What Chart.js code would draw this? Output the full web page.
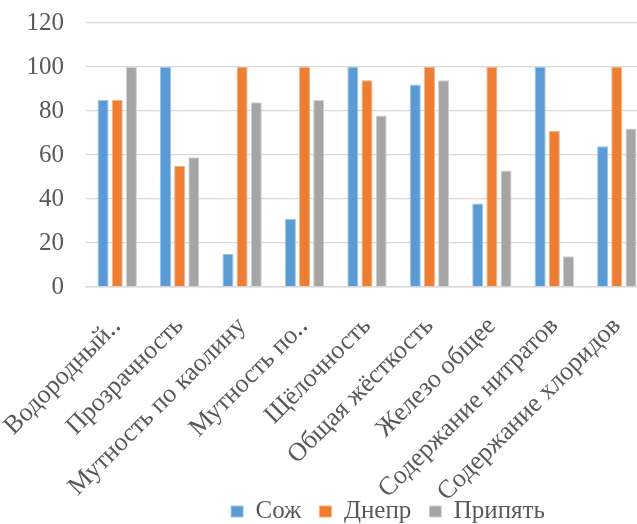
<!DOCTYPE html>
<html>
<head>
<meta charset="utf-8">
<script src="https://cdn.jsdelivr.net/npm/chart.js@4/dist/chart.umd.min.js"></script>
<style>
  html, body { margin: 0; padding: 0; overflow: hidden; background: #ffffff; }
  #wrap { position: absolute; left: 0; top: 0; width: 776px; height: 524px; }
</style>
</head>
<body>
<div id="wrap"><canvas id="chart" width="776" height="524"></canvas></div>
<script>
// Water quality indicators for three rivers
const categories = [
  'Водородный‥',
  'Прозрачность',
  'Мутность по каолину',
  'Мутность по‥',
  'Щёлочность',
  'Общая жёсткость',
  'Железо общее',
  'Содержание нитратов',
  'Содержание хлоридов'
];
const seriesNames = ['Сож', 'Днепр', 'Припять'];
const sozh    = [85, 100, 15, 31, 100, 92, 38, 100, 64];
const dnepr   = [85, 55, 100, 100, 94, 100, 100, 71, 100];
const pripyat = [100, 59, 84, 85, 78, 94, 53, 14, 72];
const yTicks = [0, 20, 40, 60, 80, 100, 120];

const fills   = ['#5b9bd5', '#ed7d31', '#a5a5a5'];
const borders = ['#9dc3e6', '#f4b183', '#d0d0d0'];
const values  = [sozh, dnepr, pripyat];

const FONT = '"Liberation Serif", "Times New Roman", serif';
const TEXT = '#595959';

// Lift the legend row so it sits just under the slanted category labels
const legendLift = {
  id: 'legendLift',
  afterLayout(chart) {
    const lg = chart.legend;
    if (!lg) return;
    lg.top -= 24;
    lg.bottom -= 24;
  }
};

function draw() {
  new Chart(document.getElementById('chart'), {
    type: 'bar',
    data: {
      labels: categories,
      datasets: seriesNames.map((name, i) => ({
        label: name,
        data: values[i],
        backgroundColor: fills[i],
        borderColor: borders[i],
        borderWidth: 1,
        categoryPercentage: 0.68,
        barPercentage: 0.78
      }))
    },
    plugins: [legendLift],
    options: {
      responsive: false,
      animation: false,
      devicePixelRatio: 1,
      layout: { padding: { top: 23, left: 0, right: 0, bottom: -34 } },
      plugins: {
        tooltip: { enabled: false },
        legend: {
          position: 'bottom',
          labels: {
            boxWidth: 12,
            boxHeight: 11,
            padding: 18,
            color: TEXT,
            font: { family: FONT, size: 25 }
          }
        }
      },
      scales: {
        x: {
          grid: { display: false },
          border: { display: true, color: '#d9d9d9', width: 1.5 },
          ticks: {
            autoSkip: false,
            maxRotation: 45,
            minRotation: 45,
            padding: 16,
            color: TEXT,
            font: { family: FONT, size: 26 }
          },
          afterFit: s => { s.height = 218; s.paddingLeft = 0; s.paddingRight = 0; }
        },
        y: {
          min: 0,
          max: 120,
          afterBuildTicks: s => { s.ticks = yTicks.map(v => ({ value: v })); },
          grid: { color: '#d9d9d9', lineWidth: 1.3, drawTicks: false },
          border: { display: false },
          ticks: {
            padding: 22,
            color: TEXT,
            font: { family: FONT, size: 25 }
          },
          afterFit: s => { s.width = 86; s.paddingTop = 0; s.paddingBottom = 0; }
        },
        spacer: {
          position: 'right',
          grid: { display: false },
          border: { display: false },
          ticks: { display: false },
          afterFit: s => { s.width = 128; }
        }
      }
    }
  });
}

document.fonts.load('26px "Liberation Serif"').then(draw, draw);
</script>
</body>
</html>
